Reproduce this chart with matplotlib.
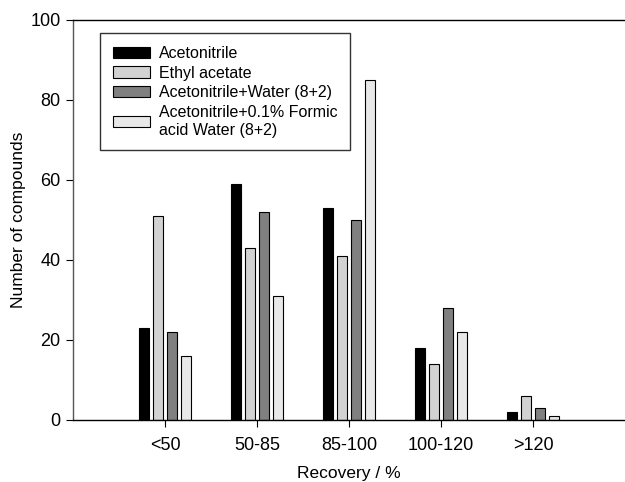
import matplotlib
matplotlib.use('Agg')
import matplotlib.pyplot as plt
import numpy as np

# --- Data ---
CATEGORIES = ['<50', '50-85', '85-100', '100-120', '>120']
SERIES = ['Acetonitrile', 'Ethyl acetate', 'Acetonitrile+Water (8+2)',
          'Acetonitrile+0.1% Formic\nacid Water (8+2)']
ACETONITRILE = [23, 59, 53, 18, 2]
ETHYL_ACETATE = [51, 43, 41, 14, 6]
ACN_WATER = [22, 52, 50, 28, 3]
ACN_FORMIC = [16, 31, 85, 22, 1]

COLORS = ['#000000', '#d2d2d2', '#808080', '#e8e8e8']

plt.rcParams['font.family'] = ['Liberation Sans', 'DejaVu Sans']

fig = plt.figure(figsize=(6.25, 4.82), dpi=100)
ax = fig.add_axes([73 / 625, 1 - 420 / 482, 1 - 73 / 625, 400 / 482])

x = np.arange(1, len(CATEGORIES) + 1)
stride = 0.152
width = 0.115
all_vals = [ACETONITRILE, ETHYL_ACETATE, ACN_WATER, ACN_FORMIC]
for i, (vals, lab, col) in enumerate(zip(all_vals, SERIES, COLORS)):
    ax.bar(x + (i - 1.5) * stride, vals, width, color=col,
           edgecolor='black', linewidth=0.8, label=lab)

ax.set_xlim(0, 6)
ax.set_ylim(0, 100)
ax.set_xticks(x)
ax.set_xticklabels(CATEGORIES)
ax.set_yticks(range(0, 101, 20))
ax.tick_params(direction='out', length=5, width=0.8, labelsize=13, pad=4)
ax.tick_params(axis='x', pad=7)

ax.spines['right'].set_visible(False)
ax.spines['left'].set_color('#555555')
ax.spines['left'].set_linewidth(1.0)
ax.spines['top'].set_linewidth(1.0)
ax.spines['bottom'].set_linewidth(1.0)

ax.set_xlabel('Recovery / %', fontsize=12.5, va='center')
ax.set_ylabel('Number of compounds', fontsize=12.5, va='center')
ax.xaxis.set_label_coords(0.5, -0.133)
ax.yaxis.set_label_coords(-0.098, 0.5)

leg = ax.legend(loc='upper left', bbox_to_anchor=(100 / 625, 1 - 33 / 482),
                bbox_transform=fig.transFigure, fontsize=11.5,
                frameon=True, fancybox=False, shadow=False,
                handlelength=2.3, handleheight=0.7, handletextpad=0.6,
                labelspacing=0.3, borderpad=0.8, borderaxespad=0)
leg.get_frame().set_edgecolor('black')
leg.get_frame().set_linewidth(1.0)

fig.savefig('out.png', dpi=100)
